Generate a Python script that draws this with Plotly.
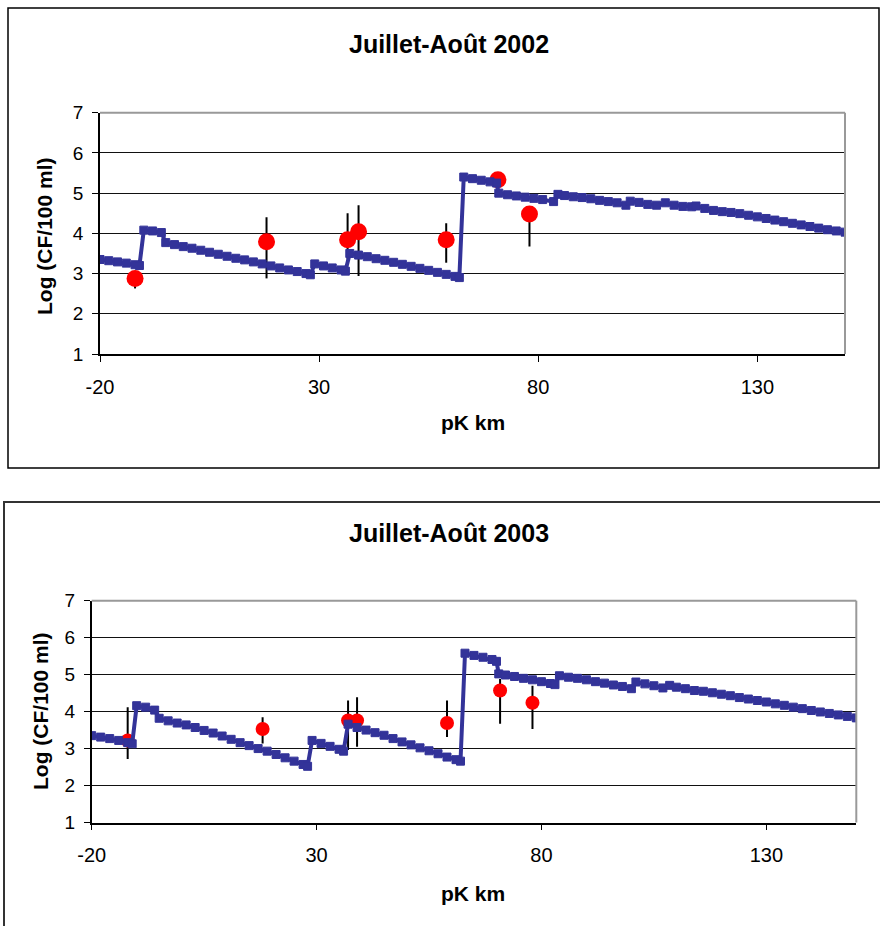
import plotly.graph_objects as go

# ---------------- data ----------------
# Model curve, Juillet-Août 2002 (pK km, log CF/100 ml)
model_x_2002 = [-20, -18, -16, -14, -12, -11,
                -10, -8, -6,
                -5, -3, -1, 1, 3, 5, 7, 9, 11, 13, 15, 17, 19, 21, 23, 25, 27, 28,
                29, 31, 33, 35, 36,
                37, 39, 41, 43, 45, 47, 49, 51, 53, 55, 57, 59, 61, 62,
                63, 65, 67, 69, 70.5,
                71, 73, 75, 77, 79, 81, 83.5,
                84.5, 86, 88, 90, 92, 94, 96, 98, 100,
                101, 103, 105, 107, 109, 111, 113, 115, 116, 118, 120, 122, 124,
                126, 128, 130, 132, 134, 136, 138, 140, 142, 144, 146, 148, 150]
model_y_2002 = [3.35, 3.32, 3.29, 3.26, 3.22, 3.20,
                4.08, 4.06, 4.02,
                3.77, 3.72, 3.67, 3.63, 3.58, 3.53, 3.48, 3.43, 3.38, 3.34, 3.29, 3.24,
                3.19, 3.14, 3.09, 3.05, 3.00, 2.97,
                3.24, 3.19, 3.14, 3.09, 3.06,
                3.50, 3.46, 3.42, 3.37, 3.33, 3.28, 3.23, 3.18, 3.13, 3.08, 3.03, 2.98, 2.93, 2.90,
                5.40, 5.36, 5.32, 5.28, 5.25,
                5.00, 4.96, 4.93, 4.90, 4.87, 4.84, 4.79,
                4.97, 4.94, 4.91, 4.89, 4.86, 4.82, 4.79, 4.76, 4.70,
                4.80, 4.77, 4.72, 4.70, 4.76, 4.70, 4.67, 4.66, 4.68, 4.62, 4.57, 4.54, 4.52,
                4.49, 4.45, 4.41, 4.37, 4.33, 4.29, 4.25, 4.21, 4.17, 4.13, 4.09, 4.06, 4.03]

# Model curve, Juillet-Août 2003
model_x_2003 = [-20, -18, -16, -14, -12, -11,
                -10, -8, -6,
                -5, -3, -1, 1, 3, 5, 7, 9, 11, 13, 15, 17, 19, 21, 23, 25, 27, 28,
                29, 31, 33, 35, 36,
                37, 39, 41, 43, 45, 47, 49, 51, 53, 55, 57, 59, 61, 62,
                63, 65, 67, 69, 70,
                70.5, 72, 74, 76, 78, 80, 82, 83,
                84, 86, 88, 90, 92, 94, 96, 98, 100,
                101, 103, 105, 107, 108.5, 110, 112, 114, 116, 118, 120, 122, 124,
                126, 128, 130, 132, 134, 136, 138, 140, 142, 144, 146, 148, 150]
model_y_2003 = [3.35, 3.31, 3.27, 3.22, 3.16, 3.13,
                4.16, 4.12, 4.04,
                3.82, 3.75, 3.69, 3.64, 3.57, 3.49, 3.42, 3.34, 3.25, 3.16, 3.08, 3.00,
                2.93, 2.84, 2.75, 2.66, 2.57, 2.52,
                3.22, 3.14, 3.06, 2.98, 2.93,
                3.66, 3.57, 3.50, 3.43, 3.36, 3.27, 3.18, 3.10, 3.02, 2.94, 2.86, 2.77, 2.70, 2.66,
                5.58, 5.52, 5.47, 5.41, 5.36,
                5.02, 4.99, 4.95, 4.90, 4.86, 4.81, 4.76, 4.73,
                4.97, 4.93, 4.90, 4.86, 4.81, 4.77, 4.72, 4.68, 4.62,
                4.80, 4.75, 4.70, 4.64, 4.71, 4.66, 4.62, 4.57, 4.55, 4.51, 4.47, 4.43, 4.38,
                4.34, 4.30, 4.26, 4.21, 4.17, 4.12, 4.08, 4.03, 3.99, 3.95, 3.91, 3.87, 3.83]

# Observations (mean, upper and lower bound)
obs_x_2002 = [-12, 18, 36.5, 39, 59, 70.8, 78]
obs_y_2002 = [2.88, 3.79, 3.84, 4.04, 3.84, 5.33, 4.48]
obs_hi_2002 = [2.98, 4.40, 4.50, 4.70, 4.25, 5.40, 4.55]
obs_lo_2002 = [2.63, 2.88, 3.35, 2.94, 3.27, 5.25, 3.67]

obs_x_2003 = [-12, 18, 37, 39, 59, 70.8, 78]
obs_y_2003 = [3.22, 3.53, 3.76, 3.76, 3.69, 4.57, 4.24]
obs_hi_2003 = [4.12, 3.85, 4.30, 4.39, 4.30, 4.88, 4.70]
obs_lo_2003 = [2.72, 3.14, 2.96, 3.05, 3.31, 3.67, 3.53]

x_ticks = [-20, 30, 80, 130]
x_tick_text = ["-20", "30", "80", "130"]
y_ticks = [1, 2, 3, 4, 5, 6, 7]
titles = ["Juillet-Août 2002", "Juillet-Août 2003"]
x_title = "pK km"
y_title = "Log (CF/100 ml)"

# ---------------- figure ----------------
W, H = 880, 926
FONT = "Liberation Sans, Arial, sans-serif"
BLUE = "#333399"
RED = "#FF0000"

fig = go.Figure()

def add_panel(xa, ya, ox, oy, ohi, olo, mx, my, msize):
    fig.add_trace(go.Scatter(
        x=ox, y=oy, mode="markers", xaxis=xa, yaxis=ya,
        marker=dict(color=RED, size=msize, symbol="circle"),
        error_y=dict(type="data", symmetric=False,
                     array=[h - v for h, v in zip(ohi, oy)],
                     arrayminus=[v - l for l, v in zip(olo, oy)],
                     color="black", thickness=2, width=0),
        showlegend=False, hoverinfo="x+y"))
    fig.add_trace(go.Scatter(
        x=mx, y=my, mode="lines+markers", xaxis=xa, yaxis=ya,
        line=dict(color=BLUE, width=4),
        marker=dict(color=BLUE, size=8, symbol="square",
                    line=dict(color=BLUE, width=1)),
        showlegend=False, hoverinfo="x+y"))

add_panel("x", "y", obs_x_2002, obs_y_2002, obs_hi_2002, obs_lo_2002,
          model_x_2002, model_y_2002, 17)
add_panel("x2", "y2", obs_x_2003, obs_y_2003, obs_hi_2003, obs_lo_2003,
          model_x_2003, model_y_2003, 14)

def xaxis_style(domain, anchor):
    return dict(domain=domain, anchor=anchor, range=[-20, 150],
                tickvals=x_ticks, ticktext=x_tick_text,
                ticks="outside", ticklen=6, tickwidth=1.2,
                tickcolor="black", showline=True, linecolor="black",
                linewidth=1.5, showgrid=False, zeroline=False,
                automargin=False, ticklabelstandoff=8,
                tickfont=dict(family=FONT, size=20, color="black"))

def yaxis_style(domain, anchor):
    return dict(domain=domain, anchor=anchor, range=[1, 7],
                tickvals=y_ticks, ticks="outside", ticklen=6, tickwidth=1.2,
                tickcolor="black", showline=True, linecolor="black",
                linewidth=1.5, showgrid=True, gridcolor="#111111",
                gridwidth=1, zeroline=False, automargin=False,
                ticklabelstandoff=5,
                tickfont=dict(family=FONT, size=19, color="black"))

def px_x(p):
    return p / W

def px_y(p):
    return 1 - p / H

fig.update_layout(
    width=W, height=H, margin=dict(l=0, r=0, t=0, b=0, autoexpand=False),
    paper_bgcolor="white", plot_bgcolor="white",
    xaxis=xaxis_style([px_x(100), px_x(845)], "y"),
    yaxis=yaxis_style([px_y(354), px_y(112.7)], "x"),
    xaxis2=xaxis_style([px_x(91.7), px_x(856.3)], "y2"),
    yaxis2=yaxis_style([px_y(822.5), px_y(600.7)], "x2"),
)

shapes = []
# outer chart frames
shapes.append(dict(type="rect", xref="paper", yref="paper",
                   x0=px_x(8), x1=px_x(879), y0=px_y(468), y1=px_y(8),
                   line=dict(color="black", width=1.5), layer="below"))
shapes.append(dict(type="rect", xref="paper", yref="paper",
                   x0=px_x(4), x1=1.02, y0=-0.02, y1=px_y(502),
                   line=dict(color="#333333", width=2), layer="below"))
# gray plot-area border top and right
for xr, yr in (("x domain", "y domain"), ("x2 domain", "y2 domain")):
    shapes.append(dict(type="line", xref=xr, yref=yr, x0=0, x1=1, y0=1, y1=1,
                       line=dict(color="#999999", width=2)))
    shapes.append(dict(type="line", xref=xr, yref=yr, x0=1, x1=1, y0=0, y1=1,
                       line=dict(color="#999999", width=2)))
fig.update_layout(shapes=shapes)

ann = []
for title, ty, xt_y, yt_x, yt_y in ((titles[0], 44, 423, 45, 236),
                                     (titles[1], 533, 893, 40, 711)):
    ann.append(dict(text=f"<b>{title}</b>", x=px_x(449), y=px_y(ty),
                    xref="paper", yref="paper", showarrow=False,
                    xanchor="center", yanchor="middle",
                    font=dict(family=FONT, size=25, color="black")))
    ann.append(dict(text=f"<b>{x_title}</b>", x=px_x(473), y=px_y(xt_y),
                    xref="paper", yref="paper", showarrow=False,
                    xanchor="center", yanchor="middle",
                    font=dict(family=FONT, size=21, color="black")))
    ann.append(dict(text=f"<b>{y_title}</b>", x=px_x(yt_x), y=px_y(yt_y),
                    xref="paper", yref="paper", showarrow=False, textangle=-90,
                    xanchor="center", yanchor="middle",
                    font=dict(family=FONT, size=21, color="black")))
fig.update_layout(annotations=ann)

fig.write_html("out.html")
